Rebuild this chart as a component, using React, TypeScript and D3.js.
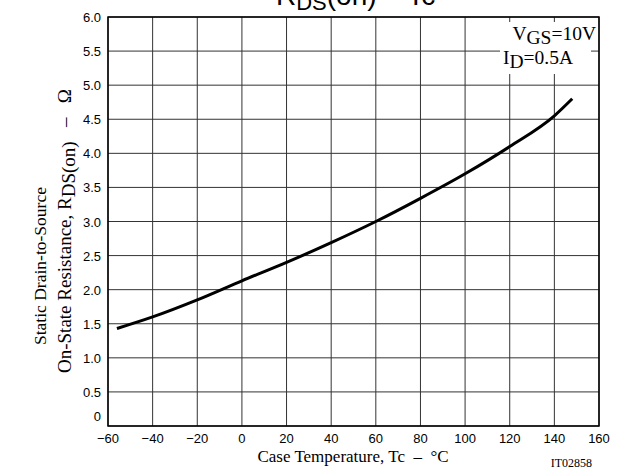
import React from "react";
import * as d3 from "d3";

const temps = [-56, -40, -20, 0, 20, 40, 60, 80, 100, 120, 140, 148];
const rdsOn = [1.43, 1.6, 1.85, 2.13, 2.4, 2.69, 3.0, 3.34, 3.7, 4.1, 4.55, 4.8];
const xTicks = [-60, -40, -20, 0, 20, 40, 60, 80, 100, 120, 140, 160];
const yTicks = [0, 0.5, 1, 1.5, 2, 2.5, 3, 3.5, 4, 4.5, 5, 5.5, 6];

const W = 626, H = 472;
const L = 108, R = 599, T = 17, B = 426;

export default function App() {
  const x = d3.scaleLinear().domain([-60, 160]).range([L, R]);
  const y = d3.scaleLinear().domain([0, 6]).range([B, T]);
  const pts = temps.map((t, i) => [t, rdsOn[i]] as [number, number]);
  const line = d3.line<[number, number]>().x(d => x(d[0])).y(d => y(d[1])).curve(d3.curveMonotoneX);
  const sans = "'Liberation Sans', Arial, sans-serif";
  const serif = "'Liberation Serif', 'Times New Roman', serif";
  const pre = { whiteSpace: "pre" as const };
  return (
    <svg width={W} height={H} style={{ position: "absolute", left: 0, top: 0, background: "#fff" }}>
      <rect x={0} y={0} width={W} height={H} fill="#fff" />
      {/* title (clipped at top) */}
      <text x={276} y={5} fontFamily={sans} fontSize={28} fill="#000" style={pre}>
        R<tspan fontSize={22} dy={5}>DS</tspan><tspan dy={-5}>{"(on) – Tc"}</tspan>
      </text>
      {/* grid */}
      {xTicks.map(t => (
        <line key={"gx" + t} x1={x(t)} x2={x(t)} y1={T} y2={B} stroke="#333" strokeWidth={1} />
      ))}
      {yTicks.map(t => (
        <line key={"gy" + t} x1={L} x2={R} y1={y(t)} y2={y(t)} stroke="#333" strokeWidth={1} />
      ))}
      {/* legend box */}
      <rect x={500} y={22} width={91} height={52} fill="#fff" />
      <text x={596} y={40} textAnchor="end" fontFamily={serif} fontSize={19.5} fill="#000">
        V<tspan dy={4}>GS</tspan><tspan dy={-4}>=10V</tspan>
      </text>
      <text x={503} y={64} fontFamily={serif} fontSize={19.5} fill="#000">
        I<tspan dy={4}>D</tspan><tspan dy={-4}>=0.5A</tspan>
      </text>
      {/* frame */}
      <rect x={L} y={T} width={R - L} height={B - T} fill="none" stroke="#000" strokeWidth={1.5} />
      {/* curve */}
      <path d={line(pts) ?? ""} fill="none" stroke="#000" strokeWidth={3} />
      {/* y tick labels */}
      {yTicks.map(t => (
        <text key={"yl" + t} x={101} y={t === 0 ? 421 : y(t) + 5} textAnchor="end" fontFamily={sans} fontSize={13} fill="#000">
          {t === 0 ? "0" : t.toFixed(1)}
        </text>
      ))}
      {/* x tick labels */}
      {xTicks.map(t => (
        <text key={"xl" + t} x={x(t)} y={443} textAnchor="middle" fontFamily={sans} fontSize={13} fill="#000">
          {t < 0 ? "\u2212" + Math.abs(t) : String(t)}
        </text>
      ))}
      <text x={353} y={462} textAnchor="middle" fontFamily={serif} fontSize={17} fill="#000" style={pre}>
        {"Case Temperature, Tc  –  °C"}
      </text>
      <text x={592} y={467} textAnchor="end" fontFamily={serif} fontSize={12} fill="#000">IT02858</text>
      {/* y axis title */}
      <text transform="translate(46,345) rotate(-90)" fontFamily={serif} fontSize={17.5} fill="#000">
        Static Drain-to-Source
      </text>
      <text transform="translate(71,373) rotate(-90)" fontFamily={serif} fontSize={19} fill="#000" style={pre}>
        On-State Resistance, R<tspan dy={4}>DS(on)</tspan><tspan dy={-4}>{"   –   Ω"}</tspan>
      </text>
    </svg>
  );
}
